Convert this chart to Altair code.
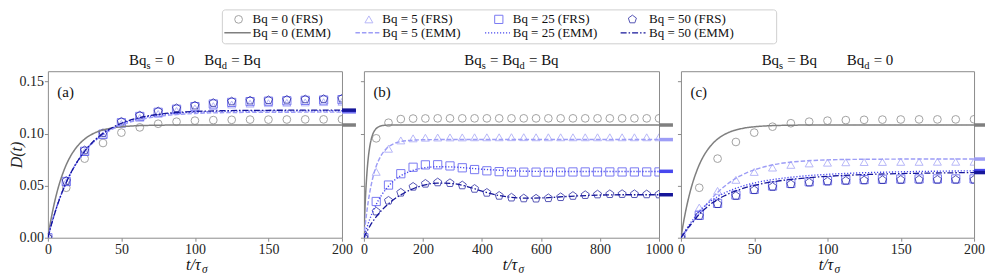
import altair as alt
import pandas as pd

SERIF = "Liberation Serif, Times New Roman, DejaVu Serif, serif"
SERIES = ["Bq = 0", "Bq = 5", "Bq = 25", "Bq = 50"]
COLORS = ["#7f7f7f", "#9d9df6", "#4848ee", "#16169a"]
PENTAGON = "M0,-1L0.951,-0.309L0.588,0.809L-0.588,0.809L-0.951,-0.309Z"
SHAPES = ["circle", "triangle-up", "square", PENTAGON]
SIZES = [60, 72, 52, 115]
DASHES = [[1, 0], [4.5, 2], [1.2, 1.8], [6, 2, 1.5, 2]]
WIDTHS = [1.5, 1.3, 1.6, 1.6]

# ---------------- FRS (markers) ----------------
T_AC = [0, 12.5, 25, 37.5, 50, 62.5, 75, 87.5, 100, 112.5, 125, 137.5, 150, 162.5, 175, 187.5, 200]
A_FRS_0 = [0, 0.048, 0.076, 0.091, 0.101, 0.106, 0.1095, 0.1115, 0.1125, 0.113, 0.1133, 0.1135, 0.1135, 0.1136, 0.1137, 0.1137, 0.1138]
A_FRS_5 = [0, 0.0535, 0.0825, 0.0985, 0.1095, 0.1152, 0.119, 0.122, 0.1243, 0.1265, 0.128, 0.1288, 0.1293, 0.1297, 0.13, 0.1303, 0.1306]
A_FRS_25 = [0, 0.054, 0.083, 0.0995, 0.1105, 0.1165, 0.1205, 0.1235, 0.126, 0.1285, 0.13, 0.1308, 0.1312, 0.1316, 0.132, 0.1323, 0.1327]
A_FRS_50 = [0, 0.0546, 0.084, 0.1005, 0.1115, 0.1175, 0.1215, 0.1245, 0.127, 0.1295, 0.131, 0.1318, 0.1322, 0.1326, 0.133, 0.1333, 0.1337]

T_B = [0, 41.67, 83.33, 125, 166.67, 208.33, 250, 291.67, 333.33, 375, 416.67, 458.33, 500,
       541.67, 583.33, 625, 666.67, 708.33, 750, 791.67, 833.33, 875, 916.67, 958.33, 1000]
B_FRS_0 = [0, 0.0955, 0.1105, 0.114, 0.1145, 0.1146, 0.1147, 0.1147, 0.1147, 0.1147, 0.1147, 0.1147, 0.1147,
           0.1147, 0.1147, 0.1147, 0.1147, 0.1147, 0.1147, 0.1147, 0.1147, 0.1147, 0.1147, 0.1147, 0.1147]
B_FRS_5 = [0, 0.0633, 0.0855, 0.0935, 0.0955, 0.0961, 0.0963, 0.0964, 0.0964, 0.0965, 0.0965, 0.0965, 0.0966,
           0.0966, 0.0965, 0.0965, 0.0965, 0.0965, 0.0965, 0.0965, 0.0965, 0.0965, 0.0965, 0.0965, 0.0965]
B_FRS_25 = [0, 0.0348, 0.0506, 0.0615, 0.0677, 0.0700, 0.0701, 0.0690, 0.0672, 0.0655, 0.0643, 0.0635, 0.0631,
            0.0630, 0.0630, 0.0631, 0.0631, 0.0632, 0.0632, 0.0632, 0.0632, 0.0632, 0.0632, 0.0632, 0.0632]
B_FRS_50 = [0, 0.0252, 0.0356, 0.0433, 0.0490, 0.0519, 0.0532, 0.0525, 0.0503, 0.0470, 0.0432, 0.0403, 0.0386,
            0.0378, 0.0376, 0.0380, 0.0390, 0.0402, 0.0410, 0.0416, 0.0419, 0.0420, 0.0419, 0.0417, 0.0416]

C_FRS_0 = [0, 0.048, 0.076, 0.092, 0.101, 0.1067, 0.110, 0.1115, 0.1125, 0.113, 0.1133, 0.1135, 0.1136, 0.1137, 0.1137, 0.1137, 0.1138]
C_FRS_5 = [0, 0.029, 0.045, 0.0556, 0.0632, 0.0674, 0.070, 0.0714, 0.0721, 0.0725, 0.0727, 0.0728, 0.0729, 0.0729, 0.073, 0.073, 0.073]
C_FRS_25 = [0, 0.0215, 0.033, 0.041, 0.0465, 0.0497, 0.0522, 0.0538, 0.0548, 0.0555, 0.0559, 0.0562, 0.0564, 0.0565, 0.0565, 0.0565, 0.0565]
C_FRS_50 = [0, 0.021, 0.0323, 0.0402, 0.0457, 0.0489, 0.0514, 0.053, 0.054, 0.0547, 0.0551, 0.0554, 0.0556, 0.0557, 0.0557, 0.0557, 0.0557]

# ---------------- EMM (lines) ----------------
T_EMM_AC = [0, 2, 4, 6, 8, 10, 12.5, 15, 17.5, 20, 25, 30, 35, 40, 45, 50, 60, 70, 80, 90, 100, 120, 140, 160, 180, 200]
EMM_GRAY_AC = [0, 0.0166, 0.0307, 0.0426, 0.0527, 0.0612, 0.0701, 0.0773, 0.0831, 0.0878, 0.0948, 0.0994, 0.1025,
               0.1044, 0.1058, 0.1066, 0.1076, 0.1080, 0.1082, 0.1083, 0.1083, 0.1083, 0.1083, 0.1083, 0.1083, 0.1083]
A_EMM_5 = [0, 0.0110, 0.0208, 0.0298, 0.0379, 0.0452, 0.0534, 0.0607, 0.0671, 0.0728, 0.0825, 0.0903, 0.0965,
           0.1014, 0.1052, 0.1083, 0.1127, 0.1155, 0.1174, 0.1186, 0.1194, 0.1202, 0.1205, 0.1206, 0.1207, 0.1207]
A_EMM_25 = [0, 0.0107, 0.0203, 0.0292, 0.0372, 0.0446, 0.0529, 0.0603, 0.0670, 0.0729, 0.0828, 0.0909, 0.0971,
            0.1022, 0.1062, 0.1095, 0.1140, 0.1169, 0.1188, 0.1200, 0.1207, 0.1215, 0.1218, 0.1219, 0.1220, 0.1220]
A_EMM_50 = [0, 0.0107, 0.0204, 0.0293, 0.0374, 0.0448, 0.0531, 0.0606, 0.0673, 0.0732, 0.0832, 0.0913, 0.0976,
            0.1027, 0.1067, 0.1100, 0.1146, 0.1175, 0.1194, 0.1206, 0.1213, 0.1221, 0.1224, 0.1225, 0.1226, 0.1226]

T_EMM_B = [0, 5, 10, 15, 20, 25, 30, 40, 50, 60, 80, 100, 125, 150, 175, 200, 250, 300, 350, 400, 450, 500,
           550, 600, 700, 800, 900, 1000]
EMM_GRAY_B = [0, 0.0369, 0.0612, 0.0773, 0.0878, 0.0948, 0.0994, 0.1044, 0.1066, 0.1076, 0.1082, 0.1083, 0.1083,
              0.1083, 0.1083, 0.1083, 0.1083, 0.1083, 0.1083, 0.1083, 0.1083, 0.1083, 0.1083, 0.1083, 0.1083,
              0.1083, 0.1083, 0.1083]
B_EMM_5 = [0, 0.0136, 0.0253, 0.0353, 0.0438, 0.0511, 0.0574, 0.0673, 0.0745, 0.0798, 0.0866, 0.0902, 0.0924,
           0.0934, 0.0939, 0.0941, 0.0943, 0.0943, 0.0943, 0.0943, 0.0943, 0.0943, 0.0943, 0.0943, 0.0943,
           0.0943, 0.0943, 0.0943]
B_EMM_25 = [0, 0.005, 0.0095, 0.014, 0.018, 0.0215, 0.025, 0.031, 0.0365, 0.041, 0.0485, 0.0545, 0.0595, 0.063,
            0.0655, 0.067, 0.0682, 0.068, 0.067, 0.0658, 0.065, 0.0643, 0.0639, 0.0637, 0.0636, 0.0636, 0.0636, 0.0636]
B_EMM_50 = [0, 0.003, 0.006, 0.0085, 0.011, 0.0135, 0.0155, 0.0195, 0.023, 0.0262, 0.0318, 0.0365, 0.0412, 0.045,
            0.048, 0.0503, 0.0525, 0.052, 0.0492, 0.0448, 0.041, 0.0388, 0.038, 0.0382, 0.0398, 0.041, 0.0413, 0.0413]

C_EMM_5 = [0, 0.0035, 0.0072, 0.011, 0.0148, 0.0185, 0.0232, 0.0278, 0.0322, 0.0362, 0.0435, 0.0497, 0.0549,
           0.0591, 0.0625, 0.0652, 0.0692, 0.0718, 0.0733, 0.0742, 0.0748, 0.0753, 0.0755, 0.0756, 0.0756, 0.0756]
C_EMM_25 = [0, 0.0045, 0.009, 0.013, 0.017, 0.021, 0.0255, 0.029, 0.032, 0.0348, 0.0395, 0.0432, 0.0462, 0.0487,
            0.0508, 0.0526, 0.0553, 0.0573, 0.0588, 0.06, 0.0609, 0.0622, 0.063, 0.0636, 0.064, 0.0643]
C_EMM_50 = [0, 0.004, 0.008, 0.0115, 0.015, 0.0185, 0.0225, 0.026, 0.029, 0.032, 0.0368, 0.0405, 0.0437, 0.0463,
            0.0485, 0.0503, 0.0532, 0.0552, 0.0568, 0.058, 0.059, 0.0604, 0.0613, 0.0619, 0.0623, 0.0626]

# steady-state values (short thick bars on the right edge)
SS_A = [0.1083, 0.1207, 0.1220, 0.1226]
SS_B = [0.1083, 0.0943, 0.0638, 0.0413]
SS_C = [0.1083, 0.0756, 0.0645, 0.0626]

Y_TICKS = [0, 0.05, 0.10, 0.15]
X_TICKS_AC = [0, 50, 100, 150, 200]
X_TICKS_B = [0, 200, 400, 600, 800, 1000]

H = 167
WA, WB, WC = 295, 296, 294
SP = 22
TXT = "#111111"
GRAY = "#8c8c8c"

CW = {"B": .667, "q": .5, "s": .389, "d": .5, "=": .564, " ": .25, "0": .5,
      "t": .278, "/": .278, "τ": .44, "σ": .5}


def long_df(t, cols):
    rows = []
    for name, vals in zip(SERIES, cols):
        for ti, v in zip(t, vals):
            rows.append({"t": ti, "D": v, "s": name})
    return pd.DataFrame(rows)


color = alt.Color("s:N", scale=alt.Scale(domain=SERIES, range=COLORS), legend=None)
shape = alt.Shape("s:N", scale=alt.Scale(domain=SERIES, range=SHAPES), legend=None)
size = alt.Size("s:O", scale=alt.Scale(domain=SERIES, range=SIZES), legend=None)
dash = alt.StrokeDash("s:N", scale=alt.Scale(domain=SERIES, range=DASHES), legend=None)
swidth = alt.StrokeWidth("s:O", scale=alt.Scale(domain=SERIES, range=WIDTHS), legend=None)


def text_pieces(pieces, center, base_y, sub_dy, main_fs, sub_fs, style):
    total = 0.0
    items = []
    for txt, kind in pieces:
        if kind == "g":
            total += txt * main_fs
            items.append(None)
        else:
            fs = main_fs if kind == "m" else sub_fs
            w = sum(CW.get(c, 0.5) for c in txt) * fs
            items.append((txt, kind, fs, w))
            total += w
    x = center - total / 2
    layers = []
    for (txt, kind), it in zip(pieces, items):
        if kind == "g":
            x += txt * main_fs
            continue
        t, k, fs, w = it
        y = base_y + (sub_dy if k == "b" else 0)
        layers.append(
            alt.Chart(pd.DataFrame({"txt": [t]}))
            .mark_text(align="left", baseline="alphabetic", font=SERIF, fontSize=fs,
                       fontStyle=style, color=TXT)
            .encode(x=alt.value(x), y=alt.value(y), text="txt:N")
        )
        x += w
    return layers


def panel(label, width, t_frs, frs, t_emm, emm, ss, xmax, xticks, title, first, bar_len):
    x_enc = alt.X("t:Q", scale=alt.Scale(domain=[0, xmax], nice=False, zero=False),
                  axis=alt.Axis(values=xticks, format="d", title=None, labelPadding=1,
                                labelFlush=False))
    if first:
        yax = alt.Axis(values=Y_TICKS, format=".2f", title="D(t)", titleFontStyle="italic",
                       titleAngle=270, titleX=-39, titleY=H / 2, titleAlign="center",
                       titleBaseline="top", labelPadding=1, labelFlush=False)
    else:
        yax = alt.Axis(values=Y_TICKS, labels=False, title=None)
    y_enc = alt.Y("D:Q", scale=alt.Scale(domain=[0, 0.16], nice=False), axis=yax)

    pts = alt.Chart(long_df(t_frs, frs)).mark_point(
        filled=False, clip=True, strokeWidth=1, opacity=0.72
    ).encode(x=x_enc, y=y_enc, color=color, shape=shape, size=size)

    lines = alt.Chart(long_df(t_emm, emm)).mark_line(
        clip=True, interpolate="monotone"
    ).encode(x=x_enc, y=y_enc, color=color, strokeDash=dash, strokeWidth=swidth)

    bars = alt.Chart(pd.DataFrame({"s": SERIES, "D": ss})).mark_rule(
        strokeWidth=3.5, clip=False
    ).encode(y=y_enc, color=color, x=alt.value(width), x2=alt.value(width + bar_len))

    lab = alt.Chart(pd.DataFrame({"txt": [label]})).mark_text(
        align="left", baseline="alphabetic", font=SERIF, fontSize=15, color=TXT
    ).encode(x=alt.value(9.5), y=alt.value(26), text="txt:N")

    tlayers = text_pieces(title, width / 2, -6, 3.5, 15, 10.5, "normal")
    xlayers = text_pieces([("t/τ", "m"), ("σ", "b")], width / 2 + 2, 199, 3, 16, 11.5, "italic")

    return alt.layer(pts, lines, bars, lab, *tlayers, *xlayers).properties(width=width, height=H)


TH = 0.278
QQ = 2.0
title_a = [("Bq", "m"), ("s", "b"), (TH, "g"), ("= 0", "m"), (QQ, "g"),
           ("Bq", "m"), ("d", "b"), (TH, "g"), ("= Bq", "m")]
title_b = [("Bq", "m"), ("s", "b"), (TH, "g"), ("= Bq", "m"), ("d", "b"), (TH, "g"), ("= Bq", "m")]
title_c = [("Bq", "m"), ("s", "b"), (TH, "g"), ("= Bq", "m"), (QQ, "g"),
           ("Bq", "m"), ("d", "b"), (TH, "g"), ("= 0", "m")]

pa = panel("(a)", WA, T_AC, [A_FRS_0, A_FRS_5, A_FRS_25, A_FRS_50], T_EMM_AC,
           [EMM_GRAY_AC, A_EMM_5, A_EMM_25, A_EMM_50], SS_A, 200, X_TICKS_AC, title_a, True, 14)
pb = panel("(b)", WB, T_B, [B_FRS_0, B_FRS_5, B_FRS_25, B_FRS_50], T_EMM_B,
           [EMM_GRAY_B, B_EMM_5, B_EMM_25, B_EMM_50], SS_B, 1000, X_TICKS_B, title_b, False, 14)
pc = panel("(c)", WC, T_AC, [C_FRS_0, C_FRS_5, C_FRS_25, C_FRS_50], T_EMM_AC,
           [EMM_GRAY_AC, C_EMM_5, C_EMM_25, C_EMM_50], SS_C, 200, X_TICKS_AC, title_c, False, 11)

row = alt.hconcat(pa, pb, pc, spacing=SP, bounds="flush")

# ---------------- legend ----------------
LEG_W = WA + SP + WB + SP + WC
LEG_H = 35
ROW1, ROW2 = 10, 23.5
LEG_MARK_X = [191.3, 322, 452.3, 586.3]
LEG_LINE_X1 = [177, 308.5, 438.5, 574.5]
LEG_LINE_X2 = [203.5, 333.5, 463.5, 599.5]
LEG_TEXT_X = [205.3, 335.5, 466.3, 603]

leg_box = alt.Chart(pd.DataFrame({"a": [0]})).mark_rect(
    fill="white", stroke="#cfcfcf", strokeWidth=1, cornerRadius=3
).encode(x=alt.value(175), x2=alt.value(731), y=alt.value(0.5), y2=alt.value(LEG_H - 0.5))

leg_pts = alt.Chart(pd.DataFrame({"s": SERIES, "px": LEG_MARK_X, "py": [ROW1] * 4})).mark_point(
    filled=False, strokeWidth=1, opacity=0.72
).encode(x=alt.X("px:Q", scale=None), y=alt.Y("py:Q", scale=None), color=color, shape=shape, size=size)

leg_lines = alt.Chart(pd.DataFrame({"s": SERIES, "px": LEG_LINE_X1, "px2": LEG_LINE_X2,
                                    "py": [ROW2] * 4})).mark_rule().encode(
    x=alt.X("px:Q", scale=None), x2="px2:Q", y=alt.Y("py:Q", scale=None),
    color=color, strokeDash=dash, strokeWidth=swidth)

leg_labels = [f"{s} (FRS)" for s in SERIES] + [f"{s} (EMM)" for s in SERIES]
leg_text = alt.Chart(pd.DataFrame({"label": leg_labels, "px": LEG_TEXT_X + LEG_TEXT_X,
                                   "py": [ROW1] * 4 + [ROW2] * 4})).mark_text(
    align="left", baseline="middle", font=SERIF, fontSize=13, color=TXT
).encode(x=alt.X("px:Q", scale=None), y=alt.Y("py:Q", scale=None), text="label:N")

legend = alt.layer(leg_box, leg_pts, leg_lines, leg_text).properties(
    width=LEG_W, height=LEG_H, view=alt.ViewBackground(stroke="transparent")
)

chart = (
    alt.vconcat(legend, row, spacing=27, bounds="flush")
    .properties(padding={"left": 0, "top": 0, "right": 0, "bottom": 0})
    .configure_view(stroke=GRAY, strokeWidth=1)
    .configure_axis(domain=False, grid=False, tickColor=GRAY, tickSize=3.5, tickWidth=1,
                    labelFont=SERIF, labelFontSize=14, labelColor="#222222",
                    titleFont=SERIF, titleFontSize=16, titleFontWeight="normal", titleColor="#222222")
)

chart.save("out.html", embed_options={"renderer": "svg", "actions": False})
